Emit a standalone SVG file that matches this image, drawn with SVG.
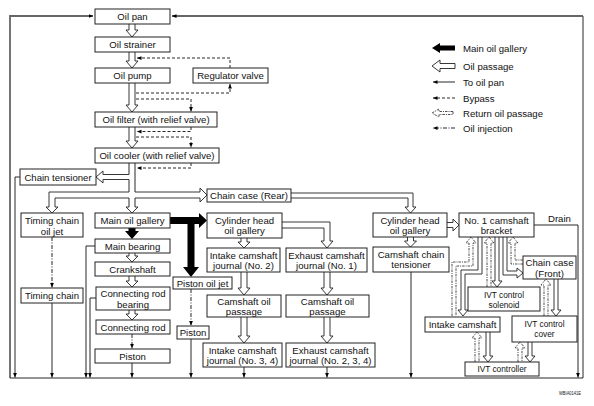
<svg xmlns="http://www.w3.org/2000/svg" width="594" height="406" viewBox="0 0 594 406">
<style>
.b{fill:#fff;stroke:#222;stroke-width:1}
.t{font-family:"Liberation Sans",Arial,sans-serif;font-size:9.6px;fill:#111;text-anchor:middle}
.l{text-anchor:start}
.ivt{font-size:8.3px}
.ho{fill:#fff;stroke:#222;stroke-width:0.9}
.rt{fill:#fff;stroke:#222;stroke-width:0.8;stroke-dasharray:2.5 1 1 1}
.th{fill:none;stroke:#111;stroke-width:0.9}
.by{fill:none;stroke:#111;stroke-width:0.9;stroke-dasharray:3 2}
.inj{fill:none;stroke:#111;stroke-width:0.9;stroke-dasharray:4 1.5 1 1.5}
.fr{fill:none;stroke:#666;stroke-width:1.8}
.blk{fill:#000}
</style>
<defs>
<marker id="ah" viewBox="0 0 6 6" refX="6" refY="3" markerWidth="4.5" markerHeight="4.5" orient="auto" markerUnits="userSpaceOnUse"><path d="M0,0.5 L6,3 L0,5.5 Z" fill="#000"/></marker>
</defs>
<rect width="594" height="406" fill="#fff"/>
<g id="connectors">
<path class="fr" d="M10,378 V16 H93" marker-end="url(#ah)"/>
<path class="th" d="M10,378 H583"/>
<path class="th" d="M583,378 V16" stroke="#666" stroke-width="1.5"/>
<path class="fr" d="M583,16 H172" marker-end="url(#ah)"/>
<path class="ho" d="M129,24 V30 H126 L132,37 L138,30 H135 V24"/>
<path class="ho" d="M129,52 V61 H126 L132,68 L138,61 H135 V52"/>
<path class="ho" d="M129,83 V105 H126 L132,112 L138,105 H135 V83"/>
<path class="ho" d="M129,127 V141 H126 L132,148 L138,141 H135 V127"/>
<path class="th" d="M129,163 V174.5 M129,179.5 V192 M129,198 V207 M135,163 V192 M135,198 V207"/>
<path class="ho" d="M129,207 H126 L132,213 L138,207 H135"/>
<path class="ho" d="M129,174.5 H103 V171 L96,177 L103,183 V179.5 H129"/>
<path class="ho" d="M129,192 H49 V207 H46 L52,213 L58,207 H55 V198 H129"/>
<path class="ho" d="M135,192 H200 V188 L207,195 L200,202 V198 H135"/>
<path class="ho" d="M291,193 H413 V207 H416 L410.5,213 L405,207 H408 V198 H291"/>
<path class="by" d="M230,68 V58 H137" marker-end="url(#ah)"/>
<path class="by" d="M136,93 H230 V84" marker-end="url(#ah)"/>
<path class="by" d="M136,99 H191 V111.5" marker-end="url(#ah)"/>
<path class="by" d="M191,127 V131.5 H137" marker-end="url(#ah)"/>
<path class="by" d="M136,137 H191 V147.5" marker-end="url(#ah)"/>
<path class="by" d="M191,163 V168 H137" marker-end="url(#ah)"/>
<path class="blk" d="M128.5,228 H135.5 V231 H139 L132,239 L125,231 H128.5 Z"/>
<path class="blk" d="M170,217 H199 V213 L207,220.5 L199,228 V224 H194.5 V267 H199 L191,277 L183,267 H187.5 V224 H170 Z"/>
<path class="ho" d="M129,253 V256 H126 L132,262 L138,256 H135 V253"/>
<path class="ho" d="M129,276 V281 H126 L132,287 L138,281 H135 V276"/>
<path class="ho" d="M129,310 V314 H126 L132,320 L138,314 H135 V310"/>
<path class="inj" d="M132,334 V348.5" marker-end="url(#ah)"/>
<path class="inj" d="M52,237 V287.5" marker-end="url(#ah)"/>
<path class="inj" d="M191,289 V325.5" marker-end="url(#ah)"/>
<path class="ho" d="M241,238 V242 H238 L244,248 L250,242 H247 V238"/>
<path class="ho" d="M282,222 H330 V241 H333 L327,248 L321,241 H324 V228 H282"/>
<path class="ho" d="M241,272 V288 H238 L244,295 L250,288 H247 V272"/>
<path class="ho" d="M324,272 V288 H321 L327,295 L333,288 H330 V272"/>
<path class="ho" d="M241,317 V336 H238 L244,343 L250,336 H247 V317"/>
<path class="ho" d="M324,317 V336 H321 L327,343 L333,336 H330 V317"/>
<path class="ho" d="M407.5,237 V241 H404.5 L410.5,247 L416.5,241 H413.5 V237"/>
<path class="ho" d="M447,222.5 H453 V219 L459,225 L453,231 V227.5 H447"/>
<path class="th" d="M20,177 H15 V377.5" marker-end="url(#ah)"/>
<path class="th" d="M52,303 V377.5" marker-end="url(#ah)"/>
<path class="th" d="M95,246 H86 V377.5" marker-end="url(#ah)"/>
<path class="th" d="M96,298 H90 V377.5" marker-end="url(#ah)"/>
<path class="th" d="M132,363 V377.5" marker-end="url(#ah)"/>
<path class="th" d="M191,339 V377.5" marker-end="url(#ah)"/>
<path class="th" d="M244,367 V377.5" marker-end="url(#ah)"/>
<path class="th" d="M327,367 V377.5" marker-end="url(#ah)"/>
<path class="th" d="M411,272 V377.5" marker-end="url(#ah)"/>
<path class="th" d="M534,225 H578 V377.5" marker-end="url(#ah)"/>
<path class="rt" d="M452,316 V262 H469 V243 H466 L471,237 L476,243 H473 V266 H456 V316"/>
<path class="ho" d="M478,237 V270 H461 V310 H458 L463,316 L468,310 H465 V274 H482 V237"/>
<path class="rt" d="M487,287 V243 H484 L489,237 L494,243 H491 V287"/>
<path class="ho" d="M495,237 V281 H492 L497,287 L502,281 H499 V237"/>
<path class="ho" d="M503,237 V275 H517 V278 L523,273 L517,268 V271 H507 V237"/>
<path class="rt" d="M523,264 H511 V243 H508 L513,237 L518,243 H515 V260 H523"/>
<path class="ho" d="M554,279 V310 H551 L556,316 L561,310 H558 V279"/>
<path class="rt" d="M544,316 V285 H541 L546,279 L551,285 H548 V316"/>
<path class="ho" d="M486,332 V356 H483 L488,362 L493,356 H490 V332"/>
<path class="rt" d="M475,362 V338 H472 L477,332 L482,338 H479 V362"/>
<path class="ho" d="M528,342 V356 H525 L530,362 L535,356 H532 V342"/>
<path class="rt" d="M518,362 V348 H515 L520,342 L525,348 H522 V362"/>
</g>
<g id="oil-pan"><rect class="b" x="95" y="9" width="75" height="15"/><text class="t" x="132.5" y="20">Oil pan</text></g>
<g id="oil-strainer"><rect class="b" x="95" y="37" width="75" height="15"/><text class="t" x="132.5" y="48">Oil strainer</text></g>
<g id="oil-pump"><rect class="b" x="95" y="68" width="75" height="15"/><text class="t" x="132.5" y="79">Oil pump</text></g>
<g id="regulator-valve"><rect class="b" x="193" y="68" width="75" height="15"/><text class="t" x="230.5" y="79">Regulator valve</text></g>
<g id="oil-filter"><rect class="b" x="95" y="112" width="122" height="15"/><text class="t" x="156" y="123">Oil filter (with relief valve)</text></g>
<g id="oil-cooler"><rect class="b" x="95" y="148" width="124" height="15"/><text class="t" x="157" y="159">Oil cooler (with relief valve)</text></g>
<g id="chain-tensioner"><rect class="b" x="20" y="169" width="76" height="16"/><text class="t" x="58" y="180.5">Chain tensioner</text></g>
<g id="chain-case-rear"><rect class="b" x="207" y="189" width="84" height="13"/><text class="t" x="249" y="199">Chain case (Rear)</text></g>
<g id="timing-chain-oil-jet"><rect class="b" x="21" y="213" width="62" height="24"/><text class="t" x="52" y="224">Timing chain</text><text class="t" x="52" y="234.5">oil jet</text></g>
<g id="timing-chain"><rect class="b" x="21" y="288" width="62" height="15"/><text class="t" x="52" y="299">Timing chain</text></g>
<g id="main-oil-gallery"><rect class="b" x="95" y="213" width="75" height="15"/><text class="t" x="132.5" y="224">Main oil gallery</text></g>
<g id="main-bearing"><rect class="b" x="95" y="239" width="75" height="14"/><text class="t" x="132.5" y="249.5">Main bearing</text></g>
<g id="crankshaft"><rect class="b" x="95" y="262" width="75" height="14"/><text class="t" x="132.5" y="272.5">Crankshaft</text></g>
<g id="connecting-rod-bearing"><rect class="b" x="96" y="287" width="74" height="23"/><text class="t" x="133" y="297">Connecting rod</text><text class="t" x="133" y="307.5">bearing</text></g>
<g id="connecting-rod"><rect class="b" x="96" y="320" width="74" height="14"/><text class="t" x="133" y="330.5">Connecting rod</text></g>
<g id="piston"><rect class="b" x="95" y="349" width="75" height="14"/><text class="t" x="132.5" y="359.5">Piston</text></g>
<g id="piston-oil-jet"><rect class="b" x="173" y="277" width="59" height="12"/><text class="t" x="202.5" y="286.5">Piston oil jet</text></g>
<g id="piston-2"><rect class="b" x="177" y="326" width="32" height="13"/><text class="t" x="193" y="336">Piston</text></g>
<g id="cylinder-head-oil-gallery-1"><rect class="b" x="207" y="213" width="75" height="25"/><text class="t" x="244.5" y="223.5">Cylinder head</text><text class="t" x="244.5" y="234">oil gallery</text></g>
<g id="intake-camshaft-journal-2"><rect class="b" x="207" y="248" width="73" height="24"/><text class="t" x="243.5" y="258.5">Intake camshaft</text><text class="t" x="243.5" y="269">journal (No. 2)</text></g>
<g id="exhaust-camshaft-journal-1"><rect class="b" x="286" y="248" width="81" height="24"/><text class="t" x="326.5" y="258.5">Exhaust camshaft</text><text class="t" x="326.5" y="269">journal (No. 1)</text></g>
<g id="camshaft-oil-passage-1"><rect class="b" x="207" y="295" width="74" height="22"/><text class="t" x="244" y="304.5">Camshaft oil</text><text class="t" x="244" y="315">passage</text></g>
<g id="camshaft-oil-passage-2"><rect class="b" x="286" y="295" width="83" height="22"/><text class="t" x="327.5" y="304.5">Camshaft oil</text><text class="t" x="327.5" y="315">passage</text></g>
<g id="intake-camshaft-journal-34"><rect class="b" x="203" y="343" width="79" height="24"/><text class="t" x="242.5" y="353.5">Intake camshaft</text><text class="t" x="242.5" y="364">journal (No. 3, 4)</text></g>
<g id="exhaust-camshaft-journal-234"><rect class="b" x="286" y="343" width="89" height="24"/><text class="t" x="330.5" y="353.5">Exhaust camshaft</text><text class="t" x="330.5" y="364">journal (No. 2, 3, 4)</text></g>
<g id="cylinder-head-oil-gallery-2"><rect class="b" x="373" y="213" width="74" height="24"/><text class="t" x="410" y="223.5">Cylinder head</text><text class="t" x="410" y="234">oil gallery</text></g>
<g id="camshaft-chain-tensioner"><rect class="b" x="373" y="247" width="76" height="25"/><text class="t" x="411" y="257.5">Camshaft chain</text><text class="t" x="411" y="268">tensioner</text></g>
<g id="no1-camshaft-bracket"><rect class="b" x="459" y="213" width="75" height="24"/><text class="t" x="496.5" y="223.5">No. 1 camshaft</text><text class="t" x="496.5" y="234">bracket</text></g>
<g id="drain-label"><text class="t l" x="548" y="222">Drain</text></g>
<g id="chain-case-front"><rect class="b" x="523" y="256" width="53" height="23"/><text class="t" x="549.5" y="266">Chain case</text><text class="t" x="549.5" y="276.5">(Front)</text></g>
<g id="ivt-control-solenoid"><rect class="b" x="468" y="287" width="72" height="24"/><text class="t ivt" x="504" y="297.5">IVT control</text><text class="t ivt" x="504" y="307.5">solenoid</text></g>
<g id="intake-camshaft"><rect class="b" x="425" y="317" width="75" height="15"/><text class="t" x="462.5" y="328">Intake camshaft</text></g>
<g id="ivt-control-cover"><rect class="b" x="512" y="316" width="65" height="26"/><text class="t ivt" x="544.5" y="327">IVT control</text><text class="t ivt" x="544.5" y="337">cover</text></g>
<g id="ivt-controller"><rect class="b" x="465" y="362" width="74" height="14"/><text class="t ivt" x="502" y="372">IVT controller</text></g>
<g id="legend">
<path class="blk" d="M432,48 L440,43 V45.5 H455 V50.5 H440 V53 Z"/>
<text class="t l" x="463" y="51.5">Main oil gallery</text>
<path class="ho" d="M455,63.5 H440 V60 L432,66 L440,72 V68.5 H455 Z"/>
<text class="t l" x="463" y="69.5">Oil passage</text>
<path class="th" d="M455,82 H433" marker-end="url(#ah)"/>
<text class="t l" x="463" y="85.5">To oil pan</text>
<path class="by" d="M455,98 H433" marker-end="url(#ah)"/>
<text class="t l" x="463" y="101.5">Bypass</text>
<path class="rt" d="M453,111.5 H439 V109 L432,113 L439,117 V114.5 H453 Z"/>
<text class="t l" x="463" y="116.5">Return oil passage</text>
<path class="inj" d="M455,128 H433" marker-end="url(#ah)"/>
<text class="t l" x="463" y="131.5">Oil injection</text>
</g>
<text class="t l" x="559" y="395" style="font-size:5.5px" textLength="22" lengthAdjust="spacingAndGlyphs">WBIA0141E</text>
</svg>
